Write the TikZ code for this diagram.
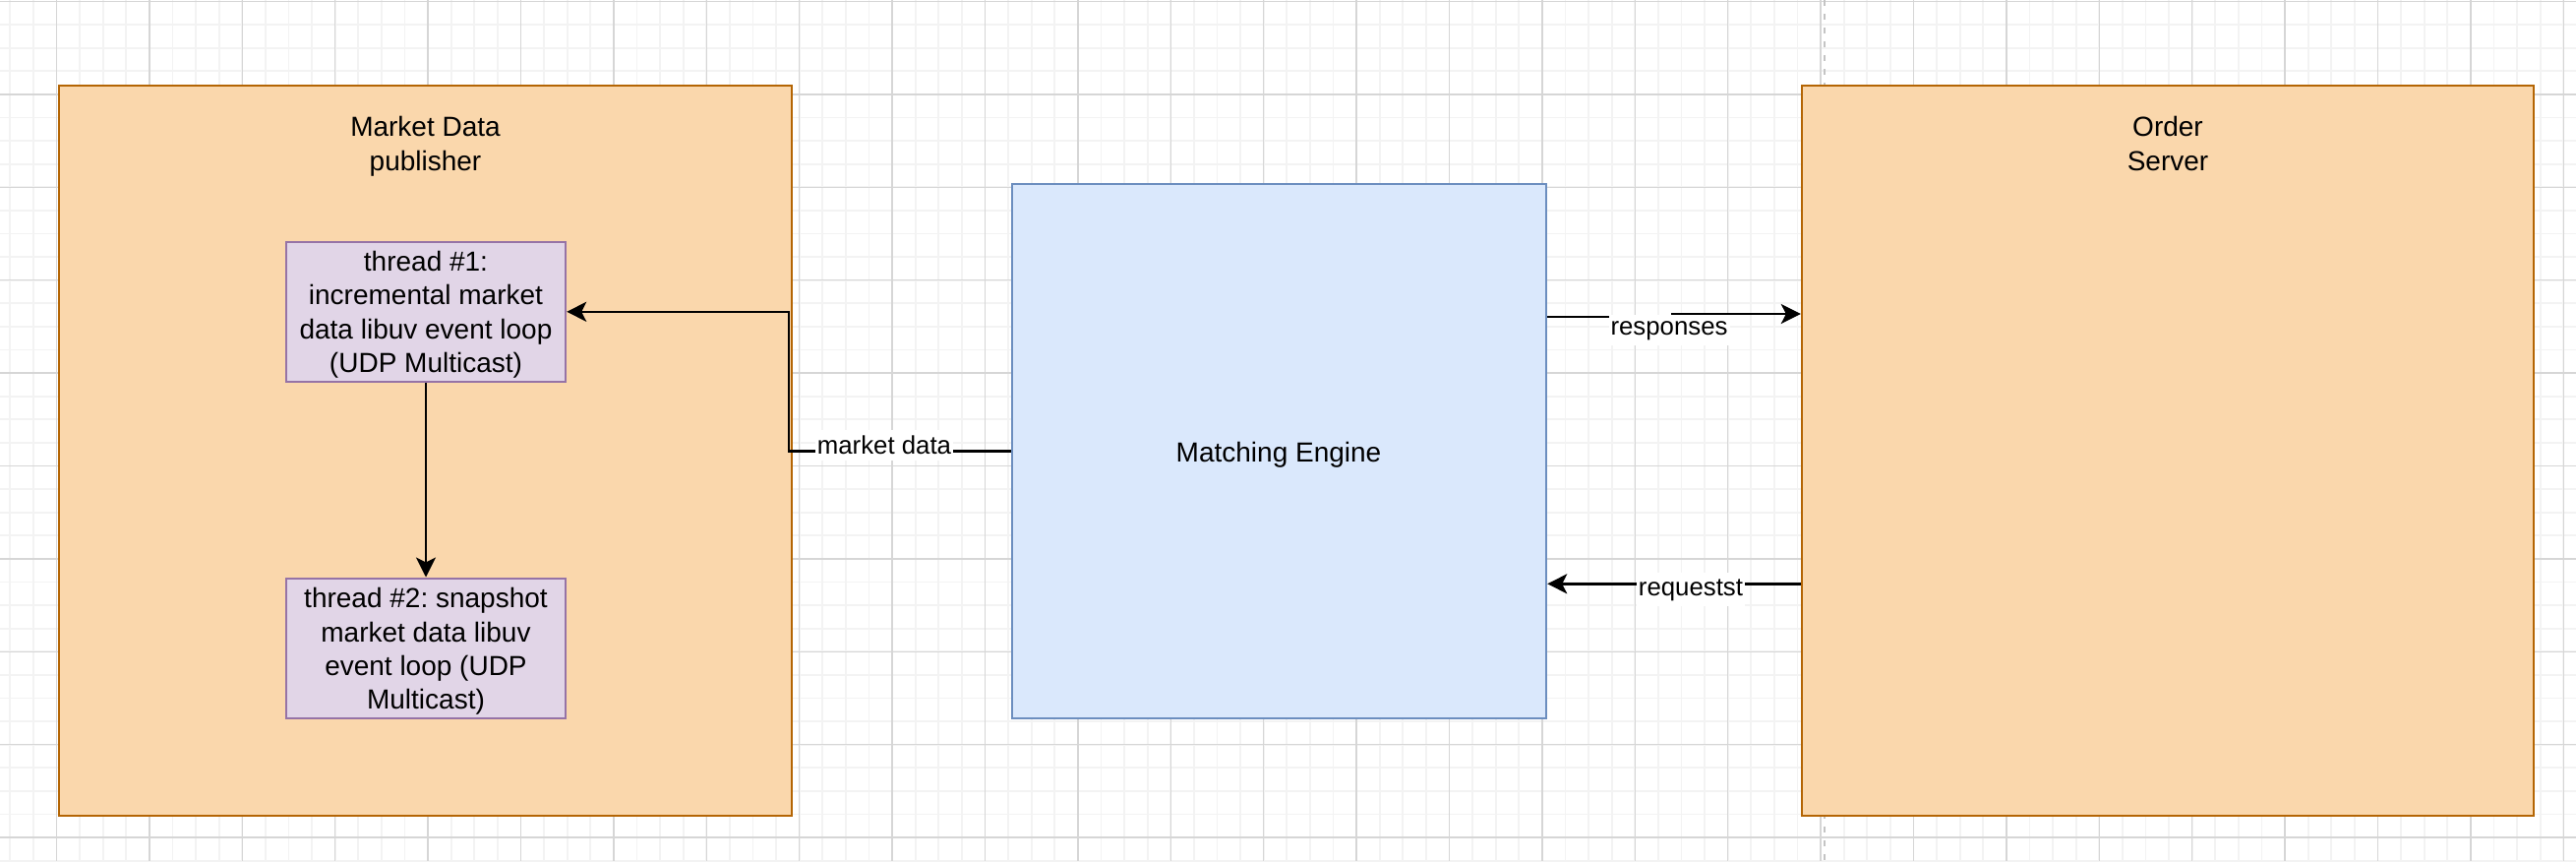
\documentclass[tikz,border=0pt]{standalone}
\usepackage{fontspec}
\setmainfont{Liberation Sans}
\usetikzlibrary{arrows.meta}
\definecolor{orfill}{HTML}{FAD7AC}
\definecolor{orline}{HTML}{B46504}
\definecolor{blfill}{HTML}{DAE8FC}
\definecolor{blline}{HTML}{6C8EBF}
\definecolor{pufill}{HTML}{E1D5E7}
\definecolor{puline}{HTML}{9673A6}
\definecolor{gridminor}{HTML}{F3F3F3}
\definecolor{gridmajor}{HTML}{D6D6D6}
\definecolor{pagebreak}{HTML}{C4C4C4}
\frenchspacing
\begin{document}
\begin{tikzpicture}[x=0.5pt,y=-0.5pt,
  minorgrid/.style={gridminor, line width=0.9pt},
  majorgrid/.style={gridmajor, line width=0.75pt},
  pageline/.style={pagebreak, line width=1.1pt, dash pattern=on 3pt off 4pt},
  box/.style={draw, line width=1.2pt, inner sep=0pt},
  orbox/.style={box, fill=orfill, draw=orline},
  blbox/.style={box, fill=blfill, draw=blline},
  pubox/.style={box, fill=pufill, draw=puline},
  txt/.style={font=\fontsize{14}{17.15}\selectfont, align=center, inner sep=0pt, anchor=north},
  edgelabel/.style={font=\fontsize{12.9}{15.5}\selectfont, fill=white, inner xsep=1pt, inner ysep=3pt, anchor=base},
  conn/.style={line width=1.2pt, black},
  arr/.style={-{Stealth[length=10pt,width=10pt,inset=2.5pt]}}
]
\useasboundingbox (0,0) rectangle (2619,875);
\fill[white] (0,0) rectangle (2619,875);
% grid
\foreach \i in {-2,...,108} \draw[minorgrid] ({57.5+23.6*\i},0) -- ({57.5+23.6*\i},875);
\foreach \j in {0,...,37} \draw[minorgrid] (0,{1.5+23.6*\j}) -- (2619,{1.5+23.6*\j});
\foreach \i in {0,...,27} \draw[majorgrid] ({57.5+94.4*\i},0) -- ({57.5+94.4*\i},875);
\foreach \j in {0,...,9} \draw[majorgrid] (0,{1.5+94.4*\j}) -- (2619,{1.5+94.4*\j});
% page break line
\coordinate (pbtop) at (1855,0);
\coordinate (pbbot) at (1855,875);
\draw[pageline] (pbtop) -- (pbbot);

% boxes
\node[orbox, minimum width=372.5pt, minimum height=371pt] (mdp) at (432.5,458) {};
\node[orbox, minimum width=372pt, minimum height=371pt] (os) at (2204,458) {};
\node[blbox, minimum width=271.5pt, minimum height=271.5pt] (me) at (1300.5,458.5) {};
\node[pubox, minimum width=142pt, minimum height=71pt] (th1) at (433,316.8) {};
\node[pubox, minimum width=142pt, minimum height=71pt] (th2) at (433,658.7) {};

% texts
\node[txt] (mdptext) at (432.5,114.3) {\strut Market Data\\publisher};
\node[txt] (ostext) at (2204,114.3) {\strut Order\\Server};
\node[txt] (th1text) at (433,251) {\strut thread \#1:\\incremental market\\data libuv event loop\\(UDP Multicast)};
\node[txt] (th2text) at (433,593.3) {\strut thread \#2: snapshot\\market data libuv\\event loop (UDP\\Multicast)};
\node[txt, anchor=base] (metext) at (1300,469) {Matching Engine};

% connectors
\coordinate (mdx) at (802,0);
\draw[conn, arr] (me.west) -- (me.west -| mdx) |- (th1.east);
\draw[conn, arr] (th1.south) -- (th2.north);
\coordinate (respA) at (1700,322);
\coordinate (respB) at (1700,319);
\draw[conn, arr] (me.east |- respA) -- (respA) -- (respB) -- (os.west |- respB);
\coordinate (reqY) at (1700,593.3);
\draw[conn, arr] (os.west |- reqY) -- (me.east |- reqY);

% edge labels
\node[edgelabel] (mdlabel) at (899,461.7) {market data};
\node[edgelabel] (resplabel) at (1697,340) {responses};
\node[edgelabel] (reqlabel) at (1719,605) {requestst};
\end{tikzpicture}
\end{document}
